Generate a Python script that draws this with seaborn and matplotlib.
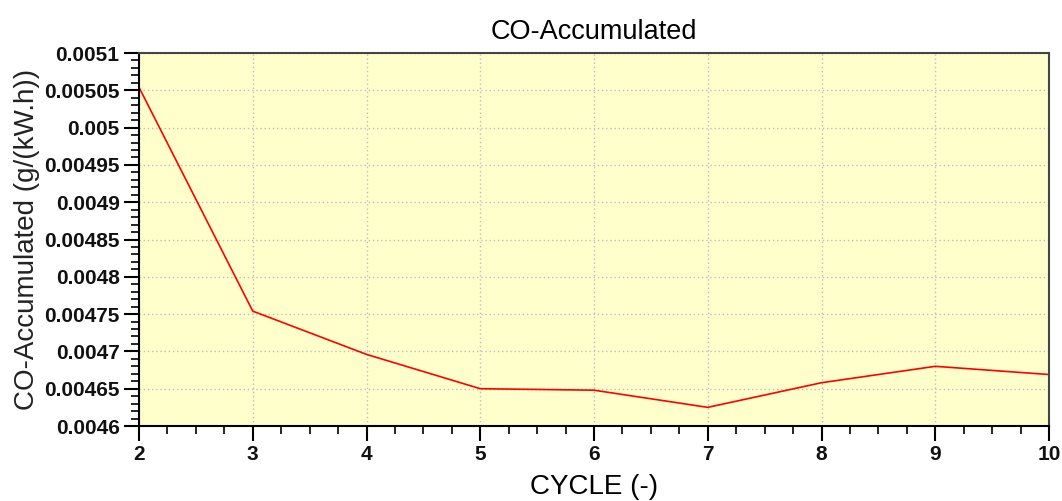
import matplotlib
matplotlib.use("Agg")
import matplotlib.pyplot as plt
from matplotlib.ticker import MultipleLocator, AutoMinorLocator
import seaborn as sns
import pandas as pd

# CO accumulated per cycle
cycle = [2, 3, 4, 5, 6, 7, 8, 9, 10]
co_accumulated = [0.005054, 0.004754, 0.004696, 0.004650, 0.004648,
                  0.004625, 0.004658, 0.004680, 0.004669]
y_ticks = [0.0046, 0.00465, 0.0047, 0.00475, 0.0048, 0.00485,
           0.0049, 0.00495, 0.005, 0.00505, 0.0051]
y_tick_labels = ["0.0046", "0.00465", "0.0047", "0.00475", "0.0048", "0.00485",
                 "0.0049", "0.00495", "0.005", "0.00505", "0.0051"]

df = pd.DataFrame({"cycle": cycle, "co": co_accumulated})

sns.set_theme(style="ticks")
plt.rcParams["font.family"] = ["Liberation Sans", "DejaVu Sans"]
plt.rcParams["text.color"] = "black"
plt.rcParams["axes.labelcolor"] = "black"

fig = plt.figure(figsize=(10.62, 5.01), dpi=100)
ax = fig.add_axes([139 / 1062, 1 - 426 / 501, (1049 - 139) / 1062, (426 - 53) / 501])
ax.set_facecolor("#ffffcc")

sns.lineplot(data=df, x="cycle", y="co", color="red", linewidth=1.2, ax=ax)

ax.set_xlim(2, 10)
ax.set_ylim(0.0046, 0.0051)
ax.xaxis.set_major_locator(MultipleLocator(1))
ax.xaxis.set_minor_locator(AutoMinorLocator(4))
ax.set_yticks(y_ticks)
ax.set_yticklabels(y_tick_labels)
ax.yaxis.set_minor_locator(AutoMinorLocator(5))

ax.grid(True, which="major", color="#bdbdbd", linestyle=(0, (1, 2)), linewidth=1)
ax.tick_params(axis="both", which="major", direction="out", length=11, width=1.5,
               color="black", labelsize=15, pad=3, labelcolor="#111111")
ax.tick_params(axis="both", which="minor", direction="out", length=5.5, width=1.2,
               color="black")
for lbl in ax.get_xticklabels() + ax.get_yticklabels():
    lbl.set_fontweight("bold")

for side in ["left", "bottom"]:
    ax.spines[side].set_color("black")
    ax.spines[side].set_linewidth(1.5)
for side in ["top", "right"]:
    ax.spines[side].set_color("#444444")
    ax.spines[side].set_linewidth(1.5)

ax.set_title("CO-Accumulated", fontsize=19.5, pad=10, color="black")
ax.set_xlabel("CYCLE (-)", fontsize=20, labelpad=7, color="black")
ax.set_ylabel("CO-Accumulated (g/(kW.h))", fontsize=20, labelpad=3, color="#222222")

fig.savefig("out.png", dpi=100)
